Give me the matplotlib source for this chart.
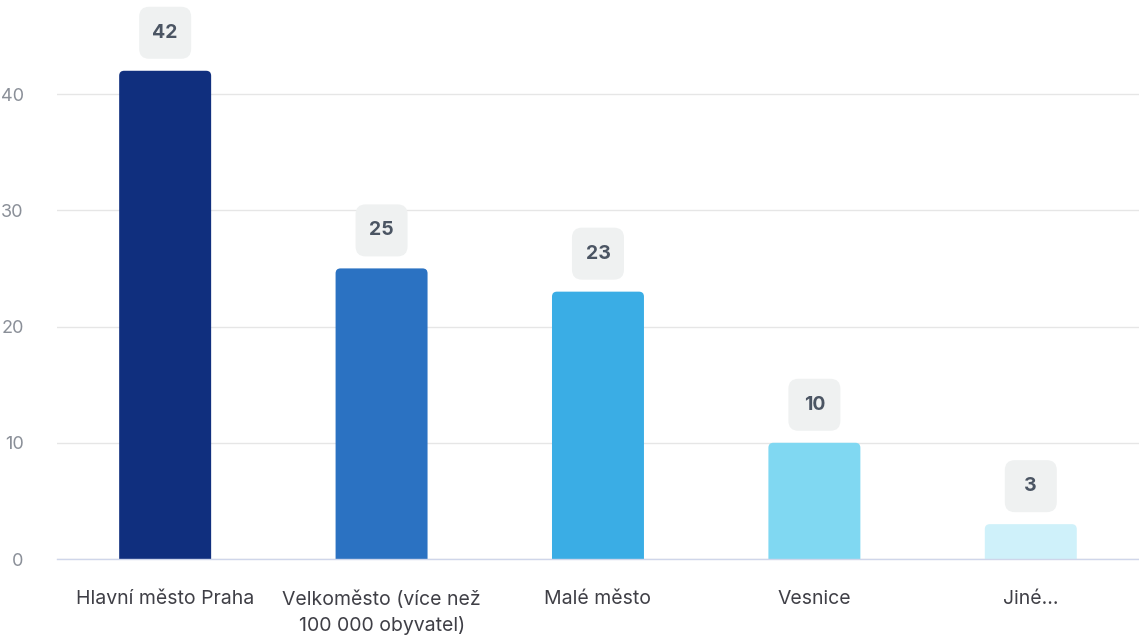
import matplotlib
matplotlib.use("Agg")
import matplotlib.pyplot as plt
from matplotlib.patches import FancyBboxPatch
from matplotlib.transforms import ScaledTranslation

categories = ["Hlavní město Praha", "Velkoměsto (více než\n100 000 obyvatel)",
              "Malé město", "Vesnice", "Jiné..."]
values = [42, 25, 23, 10, 3]
colors = ["#102f7e", "#2b72c2", "#3aade5", "#80d8f2", "#cff1fa"]
yticks = [0, 10, 20, 30, 40]

plt.rcParams['font.family'] = ['Inter', 'DejaVu Sans']

fig = plt.figure(figsize=(11.39, 6.37), dpi=100)
ax = fig.add_axes([0.05, 0.1224, 0.95, 0.876])

x = list(range(len(categories)))
bars = ax.bar(x, values, width=0.425, color=colors, zorder=3)

ax.set_xlim(-0.5, len(categories) - 0.5)
ax.set_ylim(0, 48)

# rounded top corners: replace each bar with a rounded patch extending below 0 (clipped)
fig.canvas.draw()
px_per_x = ax.transData.transform((1, 0))[0] - ax.transData.transform((0, 0))[0]
px_per_y = ax.transData.transform((0, 1))[1] - ax.transData.transform((0, 0))[1]
r_px = 5
for b in bars:
    b.set_visible(False)
    bx, by = b.get_x(), b.get_y()
    bw, bh = b.get_width(), b.get_height()
    rx = r_px / px_per_x
    p = FancyBboxPatch((bx, by - 2), bw, bh + 2,
                       boxstyle=f"round,pad=0,rounding_size={rx}",
                       mutation_aspect=px_per_x / px_per_y,
                       facecolor=b.get_facecolor(), edgecolor="none", zorder=3)
    ax.add_patch(p)

# value label boxes
for xi, v in zip(x, values):
    tr = fig.dpi_scale_trans + ScaledTranslation(xi, v, ax.transData)
    box = FancyBboxPatch((-0.26, 0.12), 0.52, 0.52,
                         boxstyle="round,pad=0,rounding_size=0.1",
                         facecolor="#eff1f1", edgecolor="none",
                         transform=tr, zorder=4, clip_on=False)
    ax.add_patch(box)
    ax.text(0, 0.38, str(v), transform=tr, ha="center", va="center",
            fontsize=14, fontweight="bold", color="#4b5563", zorder=5)

ax.set_yticks(yticks)
ax.set_xticks(x)
ax.set_xticklabels(categories, linespacing=1.5)
ax.grid(axis="y", color="#e6e6e6", linewidth=1, zorder=0)
ax.set_axisbelow(True)
for s in ["top", "right", "left"]:
    ax.spines[s].set_visible(False)
ax.spines["bottom"].set_color("#cfd6ea")
ax.spines["bottom"].set_linewidth(1)
ax.spines["bottom"].set_zorder(4)
ax.tick_params(axis="y", length=0, pad=24, labelsize=13, labelcolor="#8a8f98")
ax.tick_params(axis="x", length=0, pad=22.5, labelsize=14, labelcolor="#3f3f46")

fig.savefig("out.png", dpi=100)
